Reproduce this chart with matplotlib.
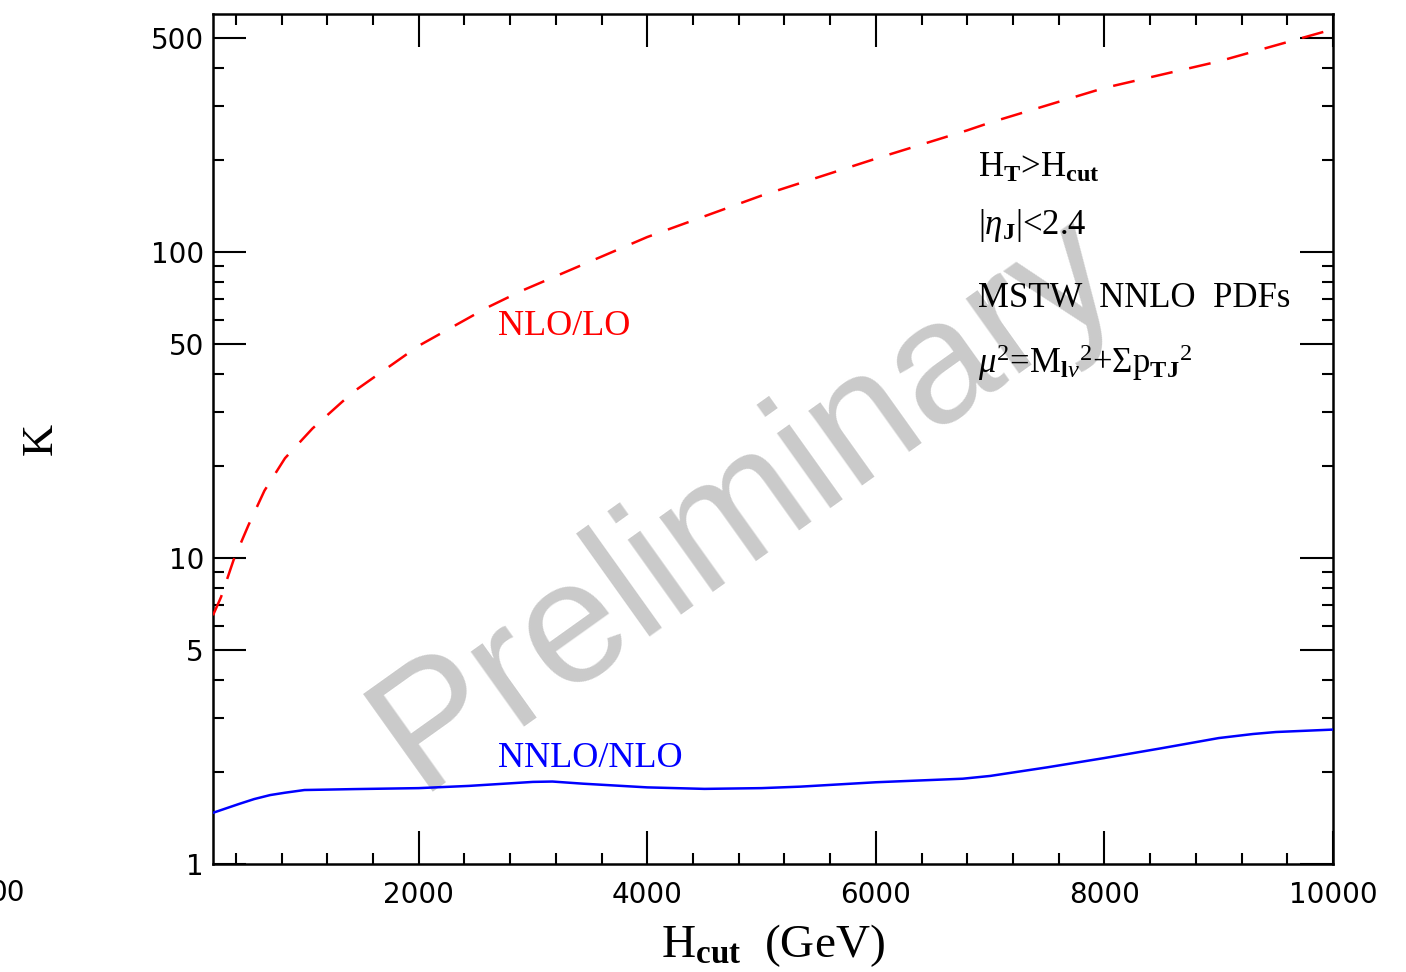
import numpy as np
import matplotlib
matplotlib.use("Agg")
import matplotlib.pyplot as plt
from matplotlib.ticker import FixedLocator, FixedFormatter, MultipleLocator

# K factors (H_cut in GeV)
h_cut_nlo = [200, 270, 380, 510, 650, 830, 1070, 1330, 1450, 2000, 2600,
             2900, 4000, 5000, 6000, 6800, 7000, 8000, 9000, 10000]
k_nlo_lo = [6.5, 7.45, 9.85, 12.8, 16.6, 21.2, 26.5, 32.4, 35.4, 49.4, 65.9,
            74.7, 112, 153, 202, 250, 265, 344, 420, 535]

h_cut_nnlo = [200, 425, 560, 700, 830, 1000, 1430, 2000, 2440, 3000, 3170,
              3440, 4000, 4500, 5000, 5340, 6000, 6760, 7000, 7500, 8000,
              8500, 9000, 9300, 9500, 10000]
k_nnlo_nlo = [1.47, 1.57, 1.63, 1.68, 1.71, 1.745, 1.757, 1.77, 1.80, 1.855, 1.86,
              1.83, 1.78, 1.76, 1.77, 1.79, 1.85, 1.90, 1.94, 2.07, 2.22,
              2.39, 2.58, 2.66, 2.70, 2.75]

x_major = [2000, 4000, 6000, 8000, 10000]
y_major = [1, 5, 10, 50, 100, 500]
y_minor = [2, 3, 4, 6, 7, 8, 9, 20, 30, 40, 60, 70, 80, 90, 200, 300, 400]

info_lines = [r"H$_\mathbf{T}$>H$_\mathbf{cut}$",
              r"|$\eta_\mathbf{J}$|<2.4",
              "MSTW  NNLO  PDFs",
              r"$\mu^2$=M$_{\mathbf{l}\nu}{}^2$+$\Sigma$p$_\mathbf{TJ}{}^2$"]

plt.rcParams["font.family"] = ["DejaVu Sans"]
plt.rcParams["mathtext.fontset"] = "custom"
plt.rcParams["mathtext.rm"] = "Liberation Serif"
plt.rcParams["mathtext.it"] = "Liberation Serif:italic"
plt.rcParams["mathtext.bf"] = "Liberation Serif:bold"
serif = ["Liberation Serif", "DejaVu Serif"]

fig = plt.figure(figsize=(14.06, 9.72), dpi=100)
ax = fig.add_axes([213/1406, 1 - 864/972, 1120/1406, 850/972])

ax.plot(h_cut_nlo, k_nlo_lo, color="#ff0000", lw=1.8, dashes=(8.8, 6.8), zorder=3)
ax.plot(h_cut_nnlo, k_nnlo_nlo, color="#0000ff", lw=1.8, zorder=3)

ax.set_yscale("log")
ax.set_xlim(200, 10000)
ax.set_ylim(1, 600)

ax.xaxis.set_major_locator(FixedLocator(x_major))
ax.xaxis.set_major_formatter(FixedFormatter([str(v) for v in x_major]))
ax.xaxis.set_minor_locator(MultipleLocator(400))
ax.yaxis.set_major_locator(FixedLocator(y_major))
ax.yaxis.set_major_formatter(FixedFormatter([str(v) for v in y_major]))
ax.yaxis.set_minor_locator(FixedLocator(y_minor))
ax.yaxis.set_minor_formatter(FixedFormatter([""] * len(y_minor)))

ax.tick_params(which="both", direction="in", top=True, right=True, width=1.5, colors="black")
ax.tick_params(which="major", length=24)
ax.tick_params(which="minor", length=8)
ax.tick_params(axis="x", which="major", labelsize=20, pad=12)
ax.tick_params(axis="y", which="major", labelsize=20, pad=6.5)
for s in ax.spines.values():
    s.set_linewidth(1.8)

ax.set_xlabel(r"H$_\mathbf{cut}$  (GeV)", fontsize=34, family=serif, va="top")
ax.xaxis.set_label_coords(0.5, -0.068)
ax.set_ylabel("K", fontsize=32, family=serif, va="center")
ax.yaxis.set_label_coords(-0.154, 0.5)

# curve labels
ax.text(2690, 53.7, "NLO/LO", color="#ff0000", fontsize=26, family=serif)
ax.text(2690, 2.07, "NNLO/NLO", color="#0000ff", fontsize=26, family=serif)

# run conditions
for txt, yb in zip(info_lines, [176.7, 234, 306.7, 373]):
    ax.text(0.683, (864 - yb)/850, txt, transform=ax.transAxes, fontsize=25,
            family=serif, va="baseline", ha="left", zorder=4)

# watermark
ax.text(772/1406, 1 - 540/972, "Preliminary", transform=fig.transFigure,
        fontsize=125, family=["Liberation Sans", "DejaVu Sans"], color="#cacaca",
        rotation=35.5, rotation_mode="anchor", ha="center", va="baseline", zorder=1)

fig.text(25/1406, 1 - 893/972, "00", fontsize=20, ha="right", va="center")

fig.savefig("out.png", dpi=100)
